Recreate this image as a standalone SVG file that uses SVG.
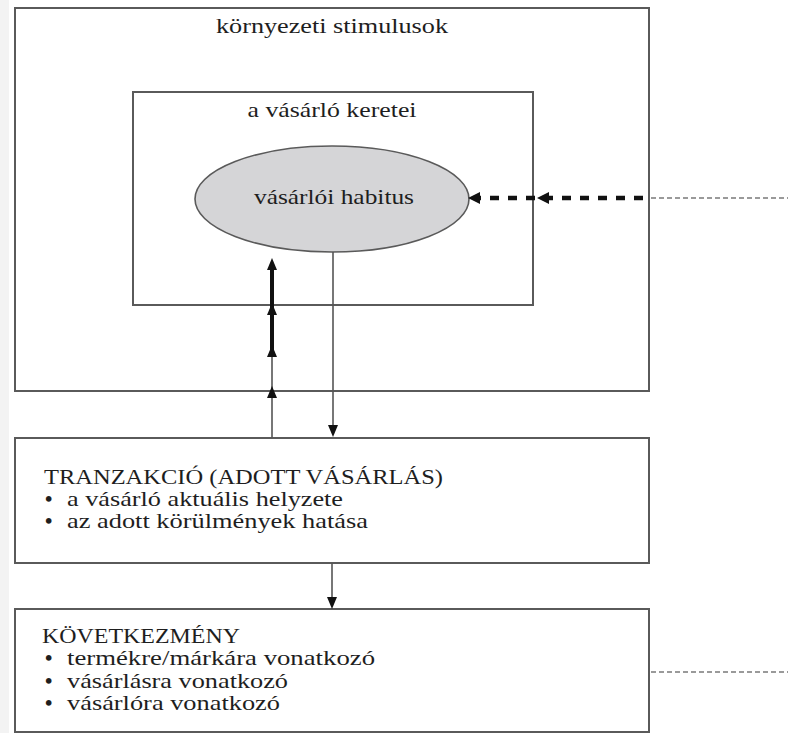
<svg xmlns="http://www.w3.org/2000/svg" width="788" height="733" viewBox="0 0 788 733">
<style>
.box{fill:#fff;stroke:#5a5a5a;stroke-width:2}
.t{font-family:"Liberation Serif","DejaVu Serif",serif;font-size:21px;fill:#1e1e1e}
.c{text-anchor:middle}
.b{font-weight:bold}
.thin{stroke:#555;stroke-width:1.6;fill:none}
.head{fill:#111}
</style>
<defs>
<path id="up" d="M0,0 L-5,12 L5,12 Z"/>
<path id="down" d="M0,0 L-5,-12 L5,-12 Z"/>
<path id="left" d="M0,0 L12,-6 L12,6 Z"/>
</defs>
<rect x="0" y="0" width="788" height="733" fill="#fff"/>
<rect x="0" y="0" width="9" height="733" fill="#f3f3f3"/>

<g id="kornyezeti">
<rect class="box" x="15" y="8" width="634" height="383"/>
<text class="t c" x="332" y="33" textLength="232" lengthAdjust="spacingAndGlyphs">környezeti stimulusok</text>
</g>
<g id="keretei">
<rect class="box" x="133" y="92" width="400" height="213"/>
<text class="t c" x="332" y="117" textLength="169" lengthAdjust="spacingAndGlyphs">a vásárló keretei</text>
</g>
<g id="habitus">
<ellipse cx="332" cy="199" rx="137" ry="53" fill="#d5d5d7" stroke="#5a5a5a" stroke-width="1.6"/>
<text class="t c" x="334" y="204" textLength="160" lengthAdjust="spacingAndGlyphs">vásárlói habitus</text>
</g>
<g id="tranzakcio">
<rect class="box" x="15" y="438" width="634" height="125"/>
<text class="t" x="44" y="484" textLength="399" lengthAdjust="spacingAndGlyphs">TRANZAKCIÓ (ADOTT VÁSÁRLÁS)</text>
<text class="t b" x="45" y="506">•</text>
<text class="t" x="67" y="506" textLength="276" lengthAdjust="spacingAndGlyphs">a vásárló aktuális helyzete</text>
<text class="t b" x="45" y="528">•</text>
<text class="t" x="67" y="528" textLength="301" lengthAdjust="spacingAndGlyphs">az adott körülmények hatása</text>
</g>
<g id="kovetkezmeny">
<rect class="box" x="15" y="609" width="634" height="123"/>
<text class="t" x="42" y="643" textLength="198" lengthAdjust="spacingAndGlyphs">KÖVETKEZMÉNY</text>
<text class="t b" x="45" y="665">•</text>
<text class="t" x="67" y="665" textLength="308" lengthAdjust="spacingAndGlyphs">termékre/márkára vonatkozó</text>
<text class="t b" x="45" y="688">•</text>
<text class="t" x="67" y="688" textLength="221" lengthAdjust="spacingAndGlyphs">vásárlásra vonatkozó</text>
<text class="t b" x="45" y="710">•</text>
<text class="t" x="67" y="710" textLength="213" lengthAdjust="spacingAndGlyphs">vásárlóra vonatkozó</text>
</g>

<g id="connectors">
<line class="thin" x1="272" y1="438" x2="272" y2="352"/>
<line x1="272" y1="352" x2="272" y2="268" stroke="#111" stroke-width="4"/>
<use href="#up" class="head" x="272" y="258"/>
<use href="#up" class="head" x="272" y="303"/>
<use href="#up" class="head" x="272" y="345"/>
<use href="#up" class="head" x="272" y="386"/>
<line class="thin" x1="333" y1="252" x2="333" y2="428"/>
<use href="#down" class="head" x="333" y="437"/>
<line class="thin" x1="332" y1="563" x2="332" y2="599"/>
<use href="#down" class="head" x="332" y="609"/>
<line x1="651" y1="198" x2="788" y2="198" stroke="#9a9a9a" stroke-width="2" stroke-dasharray="5 3"/>
<line x1="643" y1="198" x2="478" y2="198" stroke="#111" stroke-width="4.5" stroke-dasharray="9 9"/>
<use href="#left" class="head" x="468" y="198"/>
<use href="#left" class="head" x="537" y="198"/>
<line x1="651" y1="672" x2="788" y2="672" stroke="#9a9a9a" stroke-width="2" stroke-dasharray="5 3"/>
</g>
</svg>
